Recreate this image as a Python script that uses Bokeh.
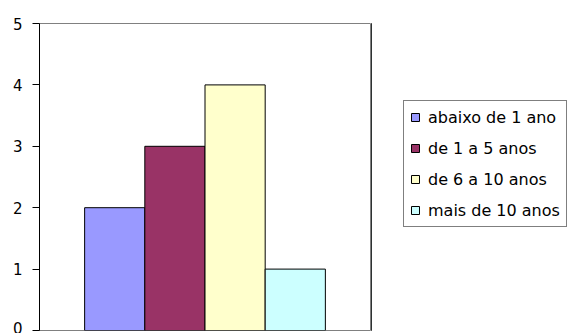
from bokeh.plotting import figure
from bokeh.layouts import row
from bokeh.models import Legend, LegendItem, ColumnDataSource, FixedTicker, Range1d
from bokeh.embed import file_html
from bokeh.resources import INLINE

categories = ["abaixo de 1 ano", "de 1 a 5 anos", "de 6 a 10 anos", "mais de 10 anos"]
values = [2, 3, 4, 1]
colors = ["#9999FF", "#993366", "#FFFFCC", "#CCFFFF"]
y_ticks = [0, 1, 2, 3, 4, 5]

FONT = "DejaVu Sans"
x_pos = list(range(1, len(categories) + 1))

# main chart
p = figure(width=371, height=333, output_backend="svg", toolbar_location=None,
           x_range=Range1d(-0.25, len(categories) + 1.25), y_range=Range1d(0, 5),
           min_border_left=39, min_border_right=1, min_border_top=23, min_border_bottom=3)

p.xaxis.visible = False
p.xgrid.visible = False
p.ygrid.visible = False
p.outline_line_color = "#808080"
p.outline_line_width = 1

ya = p.yaxis[0]
ya.ticker = FixedTicker(ticks=y_ticks)
ya.axis_line_color = "black"
ya.major_tick_line_color = "black"
ya.major_tick_out = 7
ya.major_tick_in = 0
ya.minor_tick_line_color = None
ya.major_label_standoff = 10
ya.major_label_text_font = FONT
ya.major_label_text_font_size = "15px"
ya.major_label_text_color = "black"

for i, (v, c) in enumerate(zip(values, colors)):
    src = ColumnDataSource(dict(x=[x_pos[i]], top=[v]))
    p.vbar(x="x", top="top", bottom=0, width=1, source=src,
           fill_color=c, line_color="black", line_width=1)

# legend panel (its own renderers carry the same data, kept out of view)
lg = figure(width=203, height=333, output_backend="svg", toolbar_location=None,
            x_range=Range1d(100, 101), y_range=Range1d(0, 1),
            min_border_left=0, min_border_right=0, min_border_top=0, min_border_bottom=0)
lg.axis.visible = False
lg.grid.visible = False
lg.outline_line_color = None

items = []
for i, (cat, v, c) in enumerate(zip(categories, values, colors)):
    src = ColumnDataSource(dict(x=[x_pos[i]], top=[v]))
    r = lg.vbar(x="x", top="top", bottom=0, width=1, source=src,
                fill_color=c, line_color="black", line_width=1)
    items.append(LegendItem(label=cat, renderers=[r]))

legend = Legend(items=items, location=(32, 103))
legend.glyph_width = 10
legend.glyph_height = 10
legend.label_height = 20
legend.spacing = 11
legend.label_standoff = 8
legend.padding = 6
legend.margin = 0
legend.border_line_color = "black"
legend.border_line_width = 1
legend.background_fill_color = "white"
legend.background_fill_alpha = 1
legend.label_text_font = FONT
legend.label_text_font_size = "16px"
legend.label_text_color = "black"
lg.add_layout(legend)

layout = row(p, lg, spacing=0)
open("out.html", "w").write(file_html(layout, INLINE))
